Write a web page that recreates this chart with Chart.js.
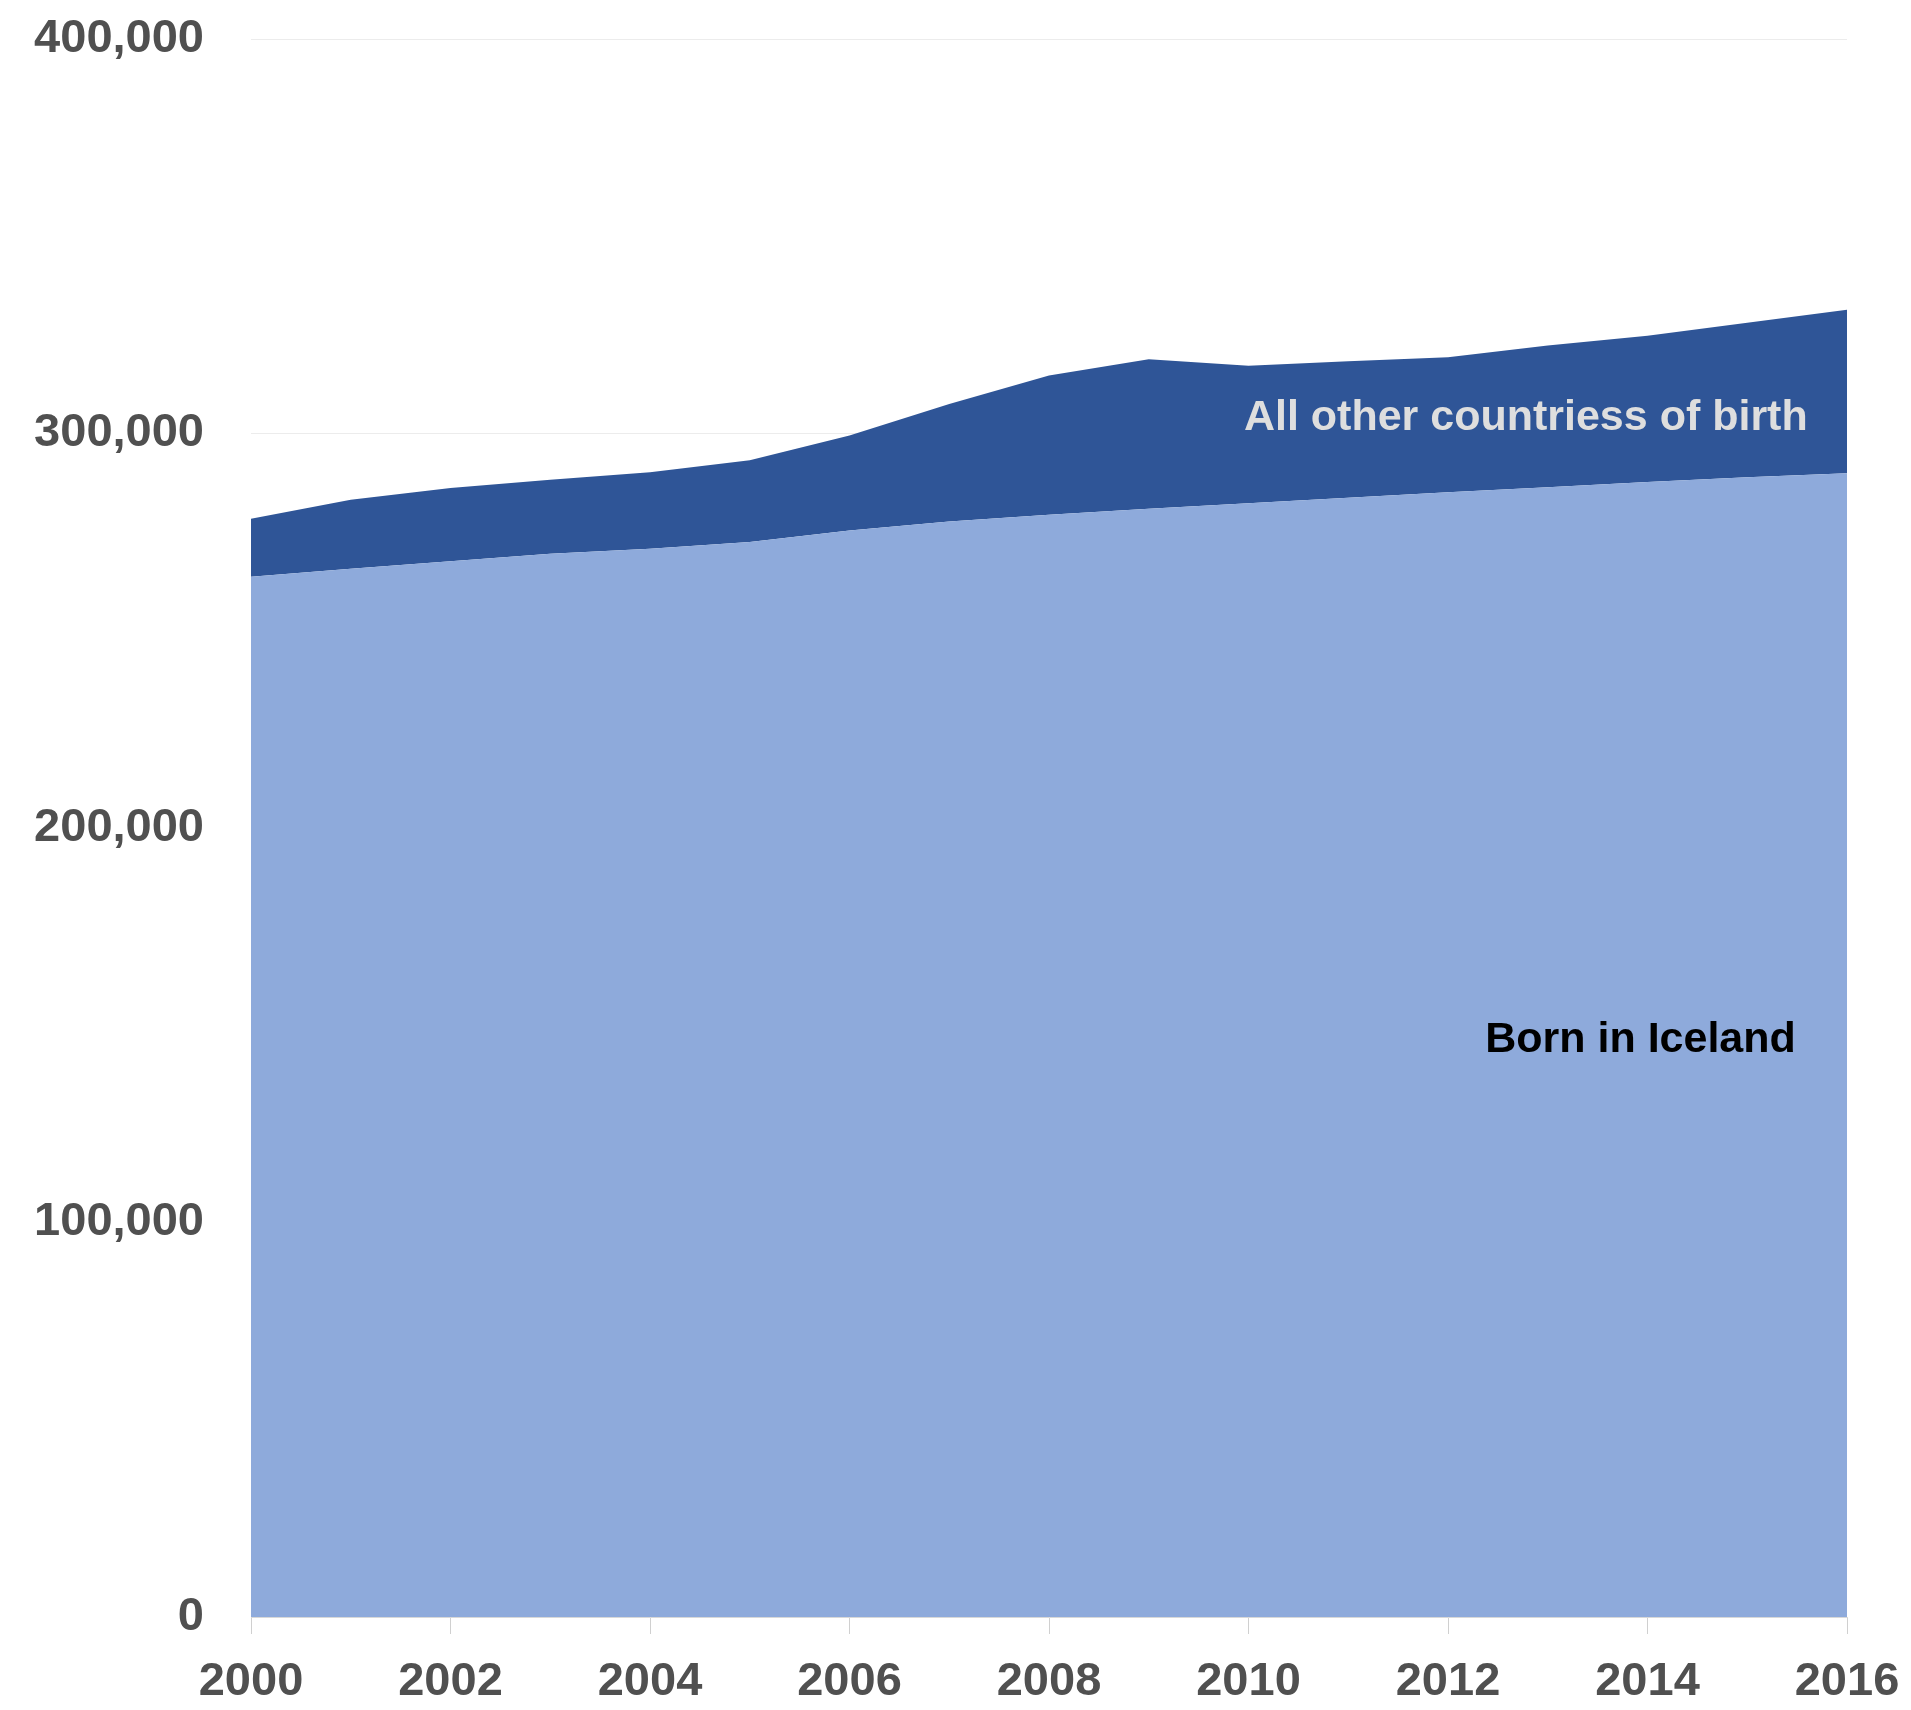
<!DOCTYPE html>
<html>
<head>
<meta charset="utf-8">
<script src="https://cdn.jsdelivr.net/npm/chart.js@4.4.1/dist/chart.umd.min.js"></script>
<style>
  html, body { margin: 0; padding: 0; background: #ffffff; }
  #wrap { width: 1911px; height: 1710px; position: relative; }
</style>
</head>
<body>
<div id="wrap"><canvas id="c" width="1911" height="1710"></canvas></div>
<script>
// ---- data ----
const years = ['2000','2001','2002','2003','2004','2005','2006','2007','2008',
               '2009','2010','2011','2012','2013','2014','2015','2016'];
const bornInIceland = [263700, 265700, 267600, 269500, 270800, 272500, 275400, 277700, 279400,
                       280900, 282300, 283700, 285100, 286400, 287700, 288900, 289900];
const otherCountries = [14700, 17500, 18600, 18800, 19400, 20700, 24100, 29800, 35300,
                        37900, 34900, 34600, 34200, 35900, 37100, 39200, 41500];
const seriesNames = ['Born in Iceland', 'All other countriess of birth'];
const yTicks = [0, 100000, 200000, 300000, 400000];

// ---- styling ----
const FONT = "'Liberation Sans', Arial, Helvetica, sans-serif";
const lightBlue = '#8eaadb';
const darkBlue = '#2f5597';

// in-chart series labels, anchored in data units
const seriesLabels = [
  { text: seriesNames[1], xIndex: 12.78, yValue: 303800, color: '#dedede' },
  { text: seriesNames[0], xIndex: 13.93, yValue: 146300, color: '#000000' }
];

const labelPlugin = {
  id: 'seriesLabels',
  afterDatasetsDraw(chart) {
    const ctx = chart.ctx;
    const xs = chart.scales.x, ys = chart.scales.y;
    ctx.save();
    ctx.font = 'bold 43px ' + FONT;
    ctx.textAlign = 'center';
    ctx.textBaseline = 'middle';
    seriesLabels.forEach(l => {
      const x0 = xs.getPixelForValue(Math.floor(l.xIndex));
      const x1 = xs.getPixelForValue(Math.ceil(l.xIndex));
      const x = x0 + (x1 - x0) * (l.xIndex - Math.floor(l.xIndex));
      const y = ys.getPixelForValue(l.yValue);
      ctx.fillStyle = l.color;
      ctx.fillText(l.text, x, y);
    });
    ctx.restore();
  }
};

new Chart(document.getElementById('c'), {
  type: 'line',
  data: {
    labels: years,
    datasets: [
      {
        label: seriesNames[0],
        data: bornInIceland,
        backgroundColor: lightBlue,
        borderColor: lightBlue,
        borderWidth: 0,
        pointRadius: 0,
        fill: 'origin',
        tension: 0
      },
      {
        label: seriesNames[1],
        data: otherCountries,
        backgroundColor: darkBlue,
        borderColor: darkBlue,
        borderWidth: 0,
        pointRadius: 0,
        fill: '-1',
        tension: 0
      }
    ]
  },
  options: {
    responsive: false,
    animation: false,
    devicePixelRatio: 1,
    layout: { padding: { top: 39, right: 64, bottom: 0, left: 0 } },
    plugins: {
      legend: { display: false },
      tooltip: { enabled: false },
      title: { display: false }
    },
    scales: {
      x: {
        offset: false,
        grid: {
          display: true,
          drawOnChartArea: false,
          drawTicks: true,
          tickLength: 17,
          color: '#d0d0d0',
          lineWidth: 1
        },
        border: { display: true, color: '#d8d8d8', width: 1 },
        ticks: {
          autoSkip: false,
          maxRotation: 0,
          padding: 20,
          color: '#505050',
          font: { family: FONT, size: 47, weight: 'bold' },
          callback: function(v, i) { return i % 2 === 0 ? years[i] : null; }
        },
        afterFit(scale) {
          scale.height = 93;
          scale.paddingLeft = 0;
          scale.paddingRight = 0;
        }
      },
      y: {
        stacked: true,
        min: 0,
        max: 400000,
        afterBuildTicks(scale) { scale.ticks = yTicks.map(v => ({ value: v })); },
        grid: {
          drawTicks: false,
          color: '#ececec',
          lineWidth: 1
        },
        border: { display: false },
        ticks: {
          padding: 47,
          color: '#505050',
          font: { family: FONT, size: 47, weight: 'bold' },
          callback: v => v.toLocaleString('en-US')
        },
        afterFit(scale) {
          scale.width = 251;
          scale.paddingTop = 0;
          scale.paddingBottom = 0;
        }
      }
    }
  },
  plugins: [labelPlugin]
});
</script>
</body>
</html>
